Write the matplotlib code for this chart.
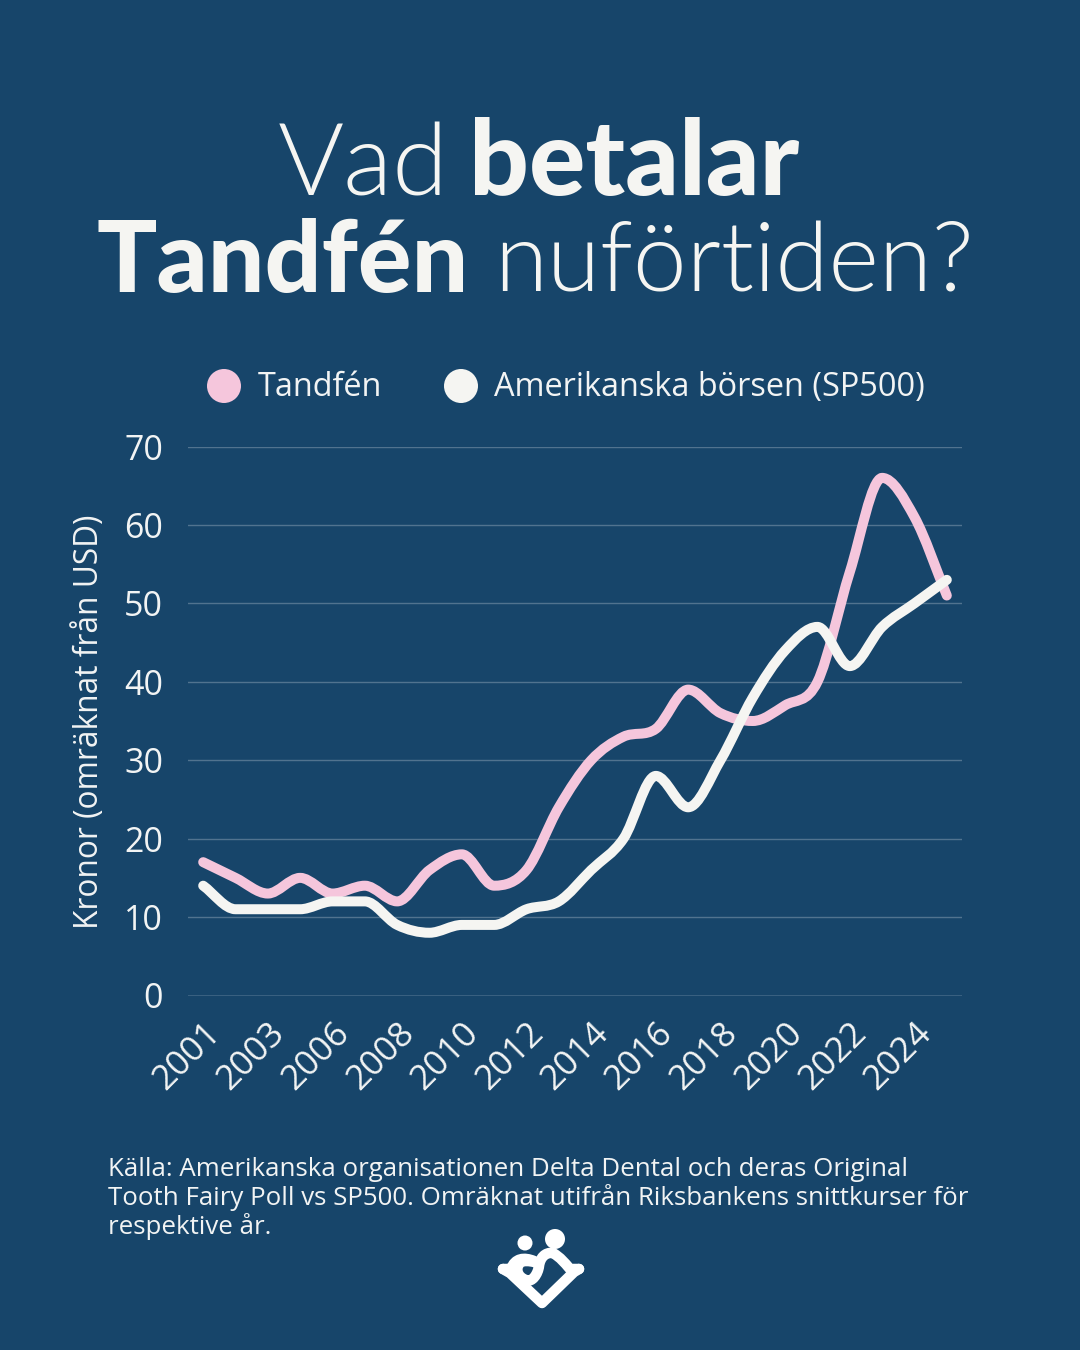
import matplotlib
matplotlib.use("Agg")
import matplotlib.pyplot as plt
from matplotlib.path import Path
from matplotlib.patches import PathPatch, Circle
from matplotlib.transforms import Affine2D

categories = ["2001","2002","2003","2005","2006","2007","2008","2009","2010","2011","2012","2013",
              "2014","2015","2016","2017","2018","2019","2020","2021","2022","2023","2024","2025"]
tandfen = [17,15,13,15,13,14,12,16,18,14,16,24,30,33,34,39,36,35,37,40,54,66,61,51]
sp500 = [14,11,11,11,12,12,9,8,9,9,11,12,16,20,28,24,30,38,44,47,42,47,50,53]
yticks = [0,10,20,30,40,50,60,70]

BG = "#17456A"; PINK = "#F5C6DC"; WHITE = "#F5F5F2"; TXT = "#F2F4F4"
W, H = 1080, 1350
fig = plt.figure(figsize=(10.8, 13.5), dpi=100, facecolor=BG)
FONT = "Open Sans"; TITLE = "Lato"
px = lambda p: p * 72 / 100
T = Affine2D().scale(1 / W, -1 / H).translate(0, 1) + fig.transFigure

ax = fig.add_axes([188 / W, 1 - 995.5 / H, (962 - 188) / W, (995.5 - 446.5) / H], facecolor="none")
ax.set_xlim(-0.47, 23.47)
ax.set_ylim(0, 70)
for s in ax.spines.values():
    s.set_visible(False)
ax.set_yticks(yticks)
ax.tick_params(axis="y", length=0, pad=18, labelsize=px(34), labelcolor=TXT)
ax.set_xticks(range(0, 24, 2))
ax.set_xticklabels(categories[0::2], rotation=45, ha="right", rotation_mode="anchor",
                   fontsize=px(35), color=TXT, family=FONT)
ax.tick_params(axis="x", length=0, pad=15)
for t in ax.get_yticklabels():
    t.set_family(FONT)
for v in yticks:
    ax.axhline(v, color="#FFFFFF", alpha=0.75 if v == 0 else 0.25, lw=px(1.4), zorder=1)

def smooth(vals):
    # monotone cubic through the read values, drawn as Bezier segments in data coordinates
    n = len(vals)
    d = [vals[i + 1] - vals[i] for i in range(n - 1)]
    m = [d[0]] + [0.0] * (n - 2) + [d[-1]]
    for i in range(1, n - 1):
        if d[i - 1] * d[i] > 0:
            s = 1 if d[i] > 0 else -1
            m[i] = s * min((abs(d[i - 1]) + abs(d[i])) / 2, 3 * abs(d[i - 1]), 3 * abs(d[i]))
    verts = [(0, vals[0])]
    codes = [Path.MOVETO]
    for i in range(n - 1):
        verts += [(i + 1 / 3, vals[i] + m[i] / 3), (i + 2 / 3, vals[i + 1] - m[i + 1] / 3), (i + 1, vals[i + 1])]
        codes += [Path.CURVE4] * 3
    return Path(verts, codes)

for vals, col, z in [(tandfen, PINK, 3), (sp500, WHITE, 4)]:
    ax.add_patch(PathPatch(smooth(vals), fill=False, ec=col, lw=px(10), capstyle="round",
                           joinstyle="round", zorder=z, clip_on=False))

ax.set_ylabel("Kronor (omräknat från USD)", fontsize=px(31.6), color=TXT, family=FONT)
ax.yaxis.set_label_coords((106 - 188) / (962 - 188), (995.5 - 722) / (995.5 - 446.5))

title_runs = [("Vad", 278, 195, 101, 300), ("betalar", 469, 195, 105, "black"),
              ("Tandfén", 96, 292, 100, "black"), ("nuförtiden?", 494, 292, 96.5, 300)]
for s, x, y, size, w in title_runs:
    fig.text(x, y, s, transform=T, family=TITLE, weight=w, fontsize=px(size), color=WHITE, va="baseline")

for cx, col, label, tx in [(224, PINK, "Tandfén", 258), (461, WHITE, "Amerikanska börsen (SP500)", 494)]:
    fig.add_artist(Circle((cx, 386), 17, transform=T, fc=col, ec="none"))
    fig.text(tx, 396, label, transform=T, family=FONT, fontsize=px(32.5), color=TXT, va="baseline")

for y, s in [(1176, "Källa: Amerikanska organisationen Delta Dental och deras Original"),
             (1205, "Tooth Fairy Poll vs SP500. Omräknat utifrån Riksbankens snittkurser för"),
             (1234, "respektive år.")]:
    fig.text(108, y, s, transform=T, family=FONT, fontsize=px(25.9), color=TXT, va="baseline")

# logo
fig.add_artist(Circle((525, 1243), 7.5, transform=T, fc="white", ec="none"))
fig.add_artist(Circle((555, 1239), 10, transform=T, fc="white", ec="none"))
M, L, C = Path.MOVETO, Path.LINETO, Path.CURVE4
def logo(verts, codes, lw=10.5):
    fig.add_artist(PathPatch(Path(verts, codes), transform=T, fill=False, ec="white", lw=px(lw),
                             capstyle="round", joinstyle="round"))
logo([(503, 1269), (511, 1269), (515, 1258), (524, 1257), (534, 1261)], [M, L, C, C, C])
logo([(503, 1269), (510, 1273), (542, 1303), (574, 1272), (579, 1269)], [M, L, L, L, L])
logo([(579, 1269), (570, 1269),
      (564, 1262), (561, 1258), (553, 1253),
      (545, 1252), (540, 1258), (539, 1266),
      (538, 1274), (532, 1283), (526, 1280),
      (517, 1277), (515, 1268), (520, 1263),
      (523, 1260), (530, 1261), (534, 1262)],
     [M, L] + [C] * 15)
fig.savefig("out.png", dpi=100, facecolor=BG)
